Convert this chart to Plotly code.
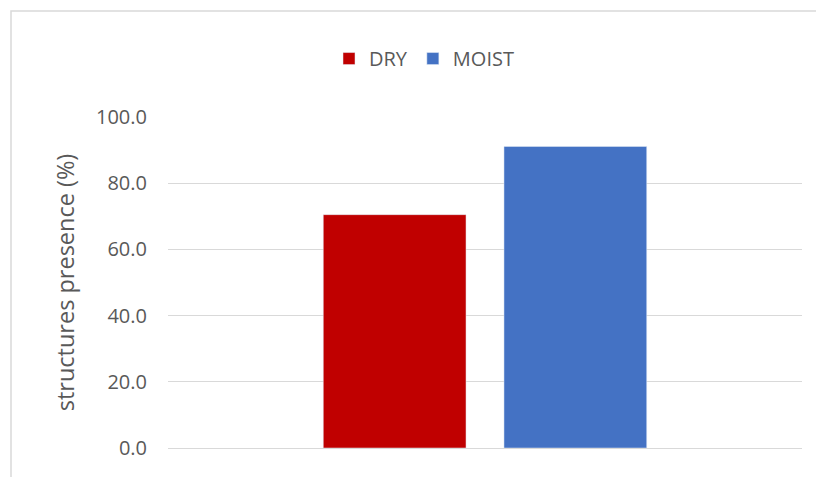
import plotly.graph_objects as go

categories = ["Condition"]
series_names = ["DRY", "MOIST"]
dry_values = [70.5]
moist_values = [91.1]
tick_values = [0, 20, 40, 60, 80, 100]
tick_labels = ["0.0", "20.0", "40.0", "60.0", "80.0", "100.0"]
colors = ["#C00000", "#4472C4"]

fig = go.Figure()
fig.add_trace(go.Bar(x=categories, y=dry_values, name=series_names[0], marker_color=colors[0]))
fig.add_trace(go.Bar(x=categories, y=moist_values, name=series_names[1], marker_color=colors[1]))

OFF = 8  # page body margin
W, H = 816, 469
L, R, T, B = 168 - OFF, 22, 116.5 - OFF, 29.3
pw, ph = W - L - R, H - T - B

def px_x(x):
    return (x - OFF - L) / pw

def px_y(y):
    return (H - B - (y - OFF)) / ph

fig.update_layout(
    width=W, height=H,
    margin=dict(l=L, r=R, t=T, b=B, pad=0),
    paper_bgcolor="white", plot_bgcolor="white",
    font=dict(family="Open Sans", size=20, color="#595959"),
    barmode="group", bargap=0.43, bargroupgap=0.21,
    showlegend=True,
    legend=dict(orientation="h", x=px_x(329), xanchor="left", y=px_y(58), yanchor="middle",
                font=dict(size=20, color="#595959"), itemwidth=30, bgcolor="rgba(0,0,0,0)"),
    xaxis=dict(showticklabels=False, showgrid=False, showline=False, zeroline=False, ticks=""),
    yaxis=dict(range=[0, 100], tickvals=tick_values, ticktext=tick_labels,
               tickfont=dict(size=20, color="#595959"),
               showgrid=True, gridcolor="#D9D9D9", gridwidth=1, zeroline=True,
               zerolinecolor="#D9D9D9", zerolinewidth=1, showline=False, ticks="",
               ticklabelstandoff=20,
               title=dict(text="structures presence (%)", font=dict(size=23.5, color="#595959"), standoff=14)),
    shapes=[dict(type="rect", xref="paper", yref="paper",
                 x0=px_x(11), x1=px_x(840), y0=px_y(490), y1=px_y(10.5),
                 line=dict(color="#D9D9D9", width=1.5), fillcolor="rgba(0,0,0,0)", layer="below")],
)

fig.write_html("out.html")
